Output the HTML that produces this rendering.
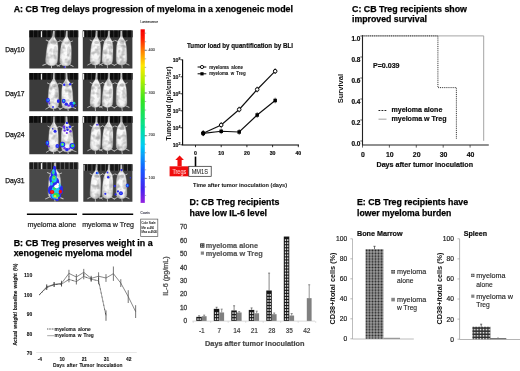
<!DOCTYPE html>
<html lang="en"><head><meta charset="utf-8"><title>CB Treg myeloma xenogeneic model figure</title>
<style>html,body{margin:0;padding:0;background:#fff;}body{width:520px;height:371px;overflow:hidden;}svg{display:block;font-family:'Liberation Sans', Arial, sans-serif;}</style>
</head><body>
<svg width="520" height="371" viewBox="0 0 520 371">
<defs>
<filter id="soft" x="-5%" y="-5%" width="110%" height="110%"><feGaussianBlur stdDeviation="0.35"/></filter>
<filter id="ph" x="-5%" y="-5%" width="110%" height="110%"><feGaussianBlur stdDeviation="0.55"/></filter>
<filter id="tex" x="-10%" y="-10%" width="120%" height="120%" color-interpolation-filters="sRGB"><feTurbulence type="fractalNoise" baseFrequency="0.2" numOctaves="2" seed="11" result="n"/><feColorMatrix in="n" type="matrix" values="0 0 0 0 0  0 0 0 0 0  0 0 0 0 0  1.5 0 0 0 -0.66" result="na"/><feFlood flood-color="#7c7c7c" result="fl"/><feComposite in="fl" in2="na" operator="in" result="dk"/><feComposite in="dk" in2="SourceGraphic" operator="in" result="dkin"/><feMerge result="m"><feMergeNode in="SourceGraphic"/><feMergeNode in="dkin"/></feMerge><feGaussianBlur in="m" stdDeviation="0.6"/></filter>
<filter id="spot" x="-50%" y="-50%" width="200%" height="200%"><feGaussianBlur stdDeviation="0.5"/></filter>
<linearGradient id="cb" x1="0" y1="0" x2="0" y2="1"><stop offset="0" stop-color="#f40000"/><stop offset="0.05" stop-color="#ff1800"/><stop offset="0.12" stop-color="#ff7a00"/><stop offset="0.21" stop-color="#ffe800"/><stop offset="0.29" stop-color="#b4f000"/><stop offset="0.41" stop-color="#34e420"/><stop offset="0.57" stop-color="#00e09a"/><stop offset="0.67" stop-color="#00ccf4"/><stop offset="0.8" stop-color="#1460ff"/><stop offset="0.92" stop-color="#4422f0"/><stop offset="1" stop-color="#9422e0"/></linearGradient>
<radialGradient id="mg" cx="0.5" cy="0.55" r="0.6"><stop offset="0" stop-color="#ffffff"/><stop offset="0.6" stop-color="#f2f2f2"/><stop offset="1" stop-color="#bdbdbd"/></radialGradient>
<pattern id="chkBM" x="365" y="249.1" width="3.0" height="2.83" patternUnits="userSpaceOnUse"><rect width="3" height="2.83" fill="#e4e4e4"/><rect x="0.33" y="0.32" width="2.34" height="2.19" fill="#2a2a2a"/></pattern>
<pattern id="chkSP" x="470.4" y="324.85" width="2.9" height="3.1" patternUnits="userSpaceOnUse"><rect width="2.9" height="3.1" fill="#2c2c2c"/><rect x="0.7" y="0.85" width="1.55" height="1.65" fill="#f4f4f4"/></pattern>
<g id="mouse"><path d="M0.7,0 L0.8,5.5 L1.4,7 L2.4,8.5 L3.5,10 L4.2,12 L4.8,14.5 L5.15,18 L5.4,24 L5.5,29 L5.2,31.5 L4.2,33 L2.5,34 L0,34.5 L0,34.5 L-2.5,34 L-4.2,33 L-5.2,31.5 L-5.5,29 L-5.4,24 L-5.15,18 L-4.8,14.5 L-4.2,12 L-3.5,10 L-2.4,8.5 L-1.4,7 L-0.8,5.5 L-0.7,0 Z" fill="url(#mg)" stroke="url(#mg)" stroke-width="0.3" stroke-linejoin="round"/><path d="M-3.6,11 L-6.8,9.6 M3.6,11 L6.2,9.8 M-4,32.8 L-8,35 M4,32.8 L8,34.6 M0.2,34 L1,40.5" stroke="#c4c4c4" stroke-width="0.9" fill="none"/><ellipse cx="0.6" cy="12" rx="2.6" ry="1.5" fill="#8a8a8a" opacity="0.42"/><ellipse cx="2.6" cy="20" rx="1.6" ry="5" fill="#9a9a9a" opacity="0.3"/><ellipse cx="0" cy="4" rx="0.5" ry="3.5" fill="#888" opacity="0.35"/></g>
</defs>
<rect width="520" height="371" fill="#fff"/>
<g filter="url(#soft)">
<text x="13.7" y="12.2" font-size="8.5" font-weight="bold" fill="#000" text-anchor="start" textLength="279.3" lengthAdjust="spacingAndGlyphs" stroke="#000" stroke-width="0.25" >A: CB Treg delays progression of myeloma in a xenogeneic model</text>
</g>
<clipPath id="cpa1"><rect x="29.3" y="30.6" width="48.900000000000006" height="37.99999999999999"/></clipPath>
<g filter="url(#ph)"><g clip-path="url(#cpa1)">
<rect x="27.3" y="28.6" width="52.900000000000006" height="41.99999999999999" fill="#3b3b3b"/>
<rect x="27.3" y="28.6" width="52.900000000000006" height="8.8" fill="#363636"/>
<rect x="25.05" y="28.6" width="3.6" height="8.6" fill="#101010"/>
<rect x="29.50" y="28.6" width="3.6" height="8.6" fill="#101010"/>
<rect x="33.95" y="28.6" width="3.6" height="8.6" fill="#101010"/>
<rect x="38.40" y="28.6" width="3.6" height="8.6" fill="#101010"/>
<rect x="42.85" y="28.6" width="3.6" height="8.6" fill="#101010"/>
<rect x="47.30" y="28.6" width="3.6" height="8.6" fill="#101010"/>
<rect x="51.75" y="28.6" width="3.6" height="8.6" fill="#101010"/>
<rect x="56.20" y="28.6" width="3.6" height="8.6" fill="#101010"/>
<rect x="60.65" y="28.6" width="3.6" height="8.6" fill="#101010"/>
<rect x="65.10" y="28.6" width="3.6" height="8.6" fill="#101010"/>
<rect x="69.55" y="28.6" width="3.6" height="8.6" fill="#101010"/>
<rect x="74.00" y="28.6" width="3.6" height="8.6" fill="#101010"/>
<rect x="78.45" y="28.6" width="3.6" height="8.6" fill="#101010"/>
<rect x="82.90" y="28.6" width="3.6" height="8.6" fill="#101010"/>
<rect x="40.85" y="31.200000000000003" width="1.1" height="6" fill="#f4f4f4"/>
<g filter="url(#tex)">
<use href="#mouse" transform="translate(53.9,30.6) rotate(4.5) scale(1.08,1.02)"/>
<use href="#mouse" transform="translate(66.8,30.6) rotate(2.5) scale(1.03,1.03)"/>
</g>
</g></g>
<g filter="url(#spot)" clip-path="url(#cpa1)">
<ellipse cx="64.6" cy="67" rx="1.00" ry="0.80" fill="#2a2af0"/>
<ellipse cx="64.8" cy="67.2" rx="0.40" ry="0.40" fill="#6a30e8"/>
</g>
<clipPath id="cpb1"><rect x="82.8" y="30.6" width="49.60000000000001" height="37.99999999999999"/></clipPath>
<g filter="url(#ph)"><g clip-path="url(#cpb1)">
<rect x="80.8" y="28.6" width="53.60000000000001" height="41.99999999999999" fill="#3b3b3b"/>
<rect x="80.8" y="28.6" width="53.60000000000001" height="8.8" fill="#363636"/>
<rect x="78.55" y="28.6" width="3.6" height="8.6" fill="#101010"/>
<rect x="83.00" y="28.6" width="3.6" height="8.6" fill="#101010"/>
<rect x="87.45" y="28.6" width="3.6" height="8.6" fill="#101010"/>
<rect x="91.90" y="28.6" width="3.6" height="8.6" fill="#101010"/>
<rect x="96.35" y="28.6" width="3.6" height="8.6" fill="#101010"/>
<rect x="100.80" y="28.6" width="3.6" height="8.6" fill="#101010"/>
<rect x="105.25" y="28.6" width="3.6" height="8.6" fill="#101010"/>
<rect x="109.70" y="28.6" width="3.6" height="8.6" fill="#101010"/>
<rect x="114.15" y="28.6" width="3.6" height="8.6" fill="#101010"/>
<rect x="118.60" y="28.6" width="3.6" height="8.6" fill="#101010"/>
<rect x="123.05" y="28.6" width="3.6" height="8.6" fill="#101010"/>
<rect x="127.50" y="28.6" width="3.6" height="8.6" fill="#101010"/>
<rect x="131.95" y="28.6" width="3.6" height="8.6" fill="#101010"/>
<rect x="136.40" y="28.6" width="3.6" height="8.6" fill="#101010"/>
<rect x="83.05" y="31.200000000000003" width="1.1" height="6" fill="#f4f4f4"/>
<g filter="url(#tex)">
<use href="#mouse" transform="translate(96.7,30.6) rotate(2.8) scale(0.95,1.0)"/>
<use href="#mouse" transform="translate(109,30.6) rotate(3.2) scale(0.97,1.0)"/>
<use href="#mouse" transform="translate(121.3,30.6) rotate(-0.5) scale(0.97,1.0)"/>
</g>
</g></g>
<g filter="url(#spot)" clip-path="url(#cpb1)">
</g>
<clipPath id="cpa2"><rect x="29.3" y="73" width="48.900000000000006" height="38.3"/></clipPath>
<g filter="url(#ph)"><g clip-path="url(#cpa2)">
<rect x="27.3" y="71" width="52.900000000000006" height="42.3" fill="#3b3b3b"/>
<rect x="27.3" y="71" width="52.900000000000006" height="8.8" fill="#343434"/>
<rect x="25.05" y="71" width="3.6" height="8.6" fill="#101010"/>
<rect x="29.50" y="71" width="3.6" height="8.6" fill="#101010"/>
<rect x="33.95" y="71" width="3.6" height="8.6" fill="#101010"/>
<rect x="38.40" y="71" width="3.6" height="8.6" fill="#101010"/>
<rect x="42.85" y="71" width="3.6" height="8.6" fill="#101010"/>
<rect x="47.30" y="71" width="3.6" height="8.6" fill="#101010"/>
<rect x="51.75" y="71" width="3.6" height="8.6" fill="#101010"/>
<rect x="56.20" y="71" width="3.6" height="8.6" fill="#101010"/>
<rect x="60.65" y="71" width="3.6" height="8.6" fill="#101010"/>
<rect x="65.10" y="71" width="3.6" height="8.6" fill="#101010"/>
<rect x="69.55" y="71" width="3.6" height="8.6" fill="#101010"/>
<rect x="74.00" y="71" width="3.6" height="8.6" fill="#101010"/>
<rect x="78.45" y="71" width="3.6" height="8.6" fill="#101010"/>
<rect x="82.90" y="71" width="3.6" height="8.6" fill="#101010"/>
<rect x="40.85" y="73.6" width="1.1" height="6" fill="#f4f4f4"/>
<g filter="url(#tex)">
<use href="#mouse" transform="translate(53.9,73) rotate(1) scale(0.97,1.04)"/>
<use href="#mouse" transform="translate(66.4,73) rotate(-2) scale(1.04,1.04)"/>
</g>
</g></g>
<g filter="url(#spot)" clip-path="url(#cpa2)">
<ellipse cx="47.9" cy="100.2" rx="1.93" ry="2.52" fill="#2a2af0"/>
<ellipse cx="48.1" cy="100.1" rx="0.74" ry="1.04" fill="#20c8f0"/>
<ellipse cx="58.3" cy="101.1" rx="1.49" ry="1.93" fill="#2a2af0"/>
<ellipse cx="53.0" cy="107.0" rx="0.89" ry="0.89" fill="#2a2af0"/>
<ellipse cx="49.3" cy="103.5" rx="0.89" ry="0.89" fill="#6a30e8"/>
<ellipse cx="64.2" cy="84.8" rx="1.19" ry="1.19" fill="#2a2af0"/>
<ellipse cx="70.1" cy="84.2" rx="1.19" ry="1.19" fill="#2a2af0"/>
<ellipse cx="63.7" cy="101.1" rx="1.93" ry="2.38" fill="#2a2af0"/>
<ellipse cx="63.7" cy="100.8" rx="0.89" ry="1.04" fill="#20c8f0"/>
<ellipse cx="66.3" cy="104.2" rx="1.77" ry="1.62" fill="#2a2af0"/>
<ellipse cx="71.7" cy="103.8" rx="2.52" ry="2.07" fill="#2a2af0"/>
<ellipse cx="68.7" cy="105.6" rx="1.34" ry="1.19" fill="#6a30e8"/>
<ellipse cx="74.0" cy="103.2" rx="1.34" ry="1.34" fill="#20c8f0"/>
<ellipse cx="74.6" cy="103.0" rx="0.74" ry="0.74" fill="#30e050"/>
<ellipse cx="72.5" cy="106.2" rx="1.19" ry="1.19" fill="#2a2af0"/>
<ellipse cx="75.8" cy="105.6" rx="0.74" ry="0.89" fill="#2a2af0"/>
</g>
<clipPath id="cpb2"><rect x="82.8" y="73" width="49.60000000000001" height="38.3"/></clipPath>
<g filter="url(#ph)"><g clip-path="url(#cpb2)">
<rect x="80.8" y="71" width="53.60000000000001" height="42.3" fill="#3b3b3b"/>
<rect x="80.8" y="71" width="53.60000000000001" height="8.8" fill="#363636"/>
<rect x="78.55" y="71" width="3.6" height="8.6" fill="#101010"/>
<rect x="83.00" y="71" width="3.6" height="8.6" fill="#101010"/>
<rect x="87.45" y="71" width="3.6" height="8.6" fill="#101010"/>
<rect x="91.90" y="71" width="3.6" height="8.6" fill="#101010"/>
<rect x="96.35" y="71" width="3.6" height="8.6" fill="#101010"/>
<rect x="100.80" y="71" width="3.6" height="8.6" fill="#101010"/>
<rect x="105.25" y="71" width="3.6" height="8.6" fill="#101010"/>
<rect x="109.70" y="71" width="3.6" height="8.6" fill="#101010"/>
<rect x="114.15" y="71" width="3.6" height="8.6" fill="#101010"/>
<rect x="118.60" y="71" width="3.6" height="8.6" fill="#101010"/>
<rect x="123.05" y="71" width="3.6" height="8.6" fill="#101010"/>
<rect x="127.50" y="71" width="3.6" height="8.6" fill="#101010"/>
<rect x="131.95" y="71" width="3.6" height="8.6" fill="#101010"/>
<rect x="136.40" y="71" width="3.6" height="8.6" fill="#101010"/>
<rect x="83.05" y="73.6" width="1.1" height="6" fill="#f4f4f4"/>
<g filter="url(#tex)">
<use href="#mouse" transform="translate(96.7,73) rotate(2.8) scale(0.95,1.0)"/>
<use href="#mouse" transform="translate(109,73) rotate(3.2) scale(0.97,1.0)"/>
<use href="#mouse" transform="translate(121.3,73) rotate(-0.5) scale(0.97,1.0)"/>
</g>
</g></g>
<g filter="url(#spot)" clip-path="url(#cpb2)">
</g>
<clipPath id="cpa3"><rect x="29.3" y="116.2" width="48.900000000000006" height="38.10000000000001"/></clipPath>
<g filter="url(#ph)"><g clip-path="url(#cpa3)">
<rect x="27.3" y="114.2" width="52.900000000000006" height="42.10000000000001" fill="#3b3b3b"/>
<rect x="27.3" y="114.2" width="52.900000000000006" height="8.8" fill="#343434"/>
<rect x="25.05" y="114.2" width="3.6" height="8.6" fill="#101010"/>
<rect x="29.50" y="114.2" width="3.6" height="8.6" fill="#101010"/>
<rect x="33.95" y="114.2" width="3.6" height="8.6" fill="#101010"/>
<rect x="38.40" y="114.2" width="3.6" height="8.6" fill="#101010"/>
<rect x="42.85" y="114.2" width="3.6" height="8.6" fill="#101010"/>
<rect x="47.30" y="114.2" width="3.6" height="8.6" fill="#101010"/>
<rect x="51.75" y="114.2" width="3.6" height="8.6" fill="#101010"/>
<rect x="56.20" y="114.2" width="3.6" height="8.6" fill="#101010"/>
<rect x="60.65" y="114.2" width="3.6" height="8.6" fill="#101010"/>
<rect x="65.10" y="114.2" width="3.6" height="8.6" fill="#101010"/>
<rect x="69.55" y="114.2" width="3.6" height="8.6" fill="#101010"/>
<rect x="74.00" y="114.2" width="3.6" height="8.6" fill="#101010"/>
<rect x="78.45" y="114.2" width="3.6" height="8.6" fill="#101010"/>
<rect x="82.90" y="114.2" width="3.6" height="8.6" fill="#101010"/>
<rect x="40.85" y="116.8" width="1.1" height="6" fill="#f4f4f4"/>
<g filter="url(#tex)">
<use href="#mouse" transform="translate(53.9,116.2) rotate(1) scale(0.9,1.04)"/>
<use href="#mouse" transform="translate(66.4,116.2) rotate(-2) scale(1.1,1.04)"/>
</g>
</g></g>
<g filter="url(#spot)" clip-path="url(#cpa3)">
<ellipse cx="55.1" cy="131.2" rx="1.52" ry="1.52" fill="#2a2af0"/>
<ellipse cx="52.7" cy="128.8" rx="0.76" ry="0.76" fill="#2a2af0"/>
<ellipse cx="47.4" cy="143.1" rx="1.82" ry="2.59" fill="#2a2af0"/>
<ellipse cx="47.4" cy="142.8" rx="0.76" ry="1.06" fill="#20c8f0"/>
<ellipse cx="57.4" cy="146.0" rx="1.97" ry="1.97" fill="#2a2af0"/>
<ellipse cx="57.4" cy="146.0" rx="0.76" ry="0.76" fill="#4a7af8"/>
<ellipse cx="48.8" cy="146.3" rx="0.91" ry="0.91" fill="#6a30e8"/>
<ellipse cx="66.9" cy="122.9" rx="1.22" ry="1.22" fill="#2a2af0"/>
<ellipse cx="64.0" cy="126.8" rx="1.37" ry="1.37" fill="#6a30e8"/>
<ellipse cx="69.9" cy="126.8" rx="1.37" ry="1.37" fill="#2a2af0"/>
<ellipse cx="64.6" cy="130.6" rx="1.22" ry="1.22" fill="#6a30e8"/>
<ellipse cx="67.5" cy="129.7" rx="1.22" ry="1.22" fill="#2a2af0"/>
<ellipse cx="70.5" cy="131.2" rx="1.22" ry="1.22" fill="#6a30e8"/>
<ellipse cx="66.9" cy="133.0" rx="1.06" ry="1.06" fill="#6a30e8"/>
<ellipse cx="66.9" cy="127.3" rx="0.91" ry="0.91" fill="#2a2af0"/>
<ellipse cx="64.2" cy="128.8" rx="0.76" ry="0.76" fill="#2a2af0"/>
<ellipse cx="62.5" cy="144.6" rx="2.74" ry="2.88" fill="#2a2af0"/>
<ellipse cx="62.5" cy="144.5" rx="1.66" ry="1.82" fill="#20c8f0"/>
<ellipse cx="62.4" cy="144.4" rx="1.06" ry="1.22" fill="#30e050"/>
<ellipse cx="62.3" cy="144.2" rx="0.46" ry="0.60" fill="#f0e020"/>
<ellipse cx="72.3" cy="146.0" rx="2.88" ry="2.88" fill="#2a2af0"/>
<ellipse cx="72.5" cy="145.8" rx="1.82" ry="1.82" fill="#20c8f0"/>
<ellipse cx="72.7" cy="145.7" rx="1.22" ry="1.22" fill="#30e050"/>
<ellipse cx="73.0" cy="145.6" rx="0.60" ry="0.60" fill="#f08020"/>
<ellipse cx="66.9" cy="149.6" rx="1.82" ry="1.66" fill="#2a2af0"/>
<ellipse cx="64.6" cy="148.2" rx="1.22" ry="1.22" fill="#6a30e8"/>
<ellipse cx="69.3" cy="148.6" rx="1.06" ry="1.06" fill="#6a30e8"/>
</g>
<clipPath id="cpb3"><rect x="82.8" y="116.2" width="49.60000000000001" height="38.10000000000001"/></clipPath>
<g filter="url(#ph)"><g clip-path="url(#cpb3)">
<rect x="80.8" y="114.2" width="53.60000000000001" height="42.10000000000001" fill="#3b3b3b"/>
<rect x="80.8" y="114.2" width="53.60000000000001" height="8.8" fill="#363636"/>
<rect x="78.55" y="114.2" width="3.6" height="8.6" fill="#101010"/>
<rect x="83.00" y="114.2" width="3.6" height="8.6" fill="#101010"/>
<rect x="87.45" y="114.2" width="3.6" height="8.6" fill="#101010"/>
<rect x="91.90" y="114.2" width="3.6" height="8.6" fill="#101010"/>
<rect x="96.35" y="114.2" width="3.6" height="8.6" fill="#101010"/>
<rect x="100.80" y="114.2" width="3.6" height="8.6" fill="#101010"/>
<rect x="105.25" y="114.2" width="3.6" height="8.6" fill="#101010"/>
<rect x="109.70" y="114.2" width="3.6" height="8.6" fill="#101010"/>
<rect x="114.15" y="114.2" width="3.6" height="8.6" fill="#101010"/>
<rect x="118.60" y="114.2" width="3.6" height="8.6" fill="#101010"/>
<rect x="123.05" y="114.2" width="3.6" height="8.6" fill="#101010"/>
<rect x="127.50" y="114.2" width="3.6" height="8.6" fill="#101010"/>
<rect x="131.95" y="114.2" width="3.6" height="8.6" fill="#101010"/>
<rect x="136.40" y="114.2" width="3.6" height="8.6" fill="#101010"/>
<rect x="83.05" y="116.8" width="1.1" height="6" fill="#f4f4f4"/>
<g filter="url(#tex)">
<use href="#mouse" transform="translate(96.7,116.2) rotate(2.8) scale(0.95,1.0)"/>
<use href="#mouse" transform="translate(109,116.2) rotate(3.2) scale(0.97,1.0)"/>
<use href="#mouse" transform="translate(121.3,116.2) rotate(-0.5) scale(0.97,1.0)"/>
</g>
</g></g>
<g filter="url(#spot)" clip-path="url(#cpb3)">
<ellipse cx="97.3" cy="124.7" rx="1.50" ry="0.90" fill="#5a4ae8"/>
</g>
<clipPath id="cpa4"><rect x="29.3" y="162.5" width="48.900000000000006" height="39.30000000000001"/></clipPath>
<g filter="url(#ph)"><g clip-path="url(#cpa4)">
<rect x="27.3" y="160.5" width="52.900000000000006" height="43.30000000000001" fill="#4a4a4a"/>
<rect x="27.3" y="160.5" width="52.900000000000006" height="8.8" fill="#707070"/>
<rect x="25.05" y="160.5" width="3.6" height="8.6" fill="#1c1c1c"/>
<rect x="29.50" y="160.5" width="3.6" height="8.6" fill="#1c1c1c"/>
<rect x="33.95" y="160.5" width="3.6" height="8.6" fill="#1c1c1c"/>
<rect x="38.40" y="160.5" width="3.6" height="8.6" fill="#1c1c1c"/>
<rect x="42.85" y="160.5" width="3.6" height="8.6" fill="#1c1c1c"/>
<rect x="47.30" y="160.5" width="3.6" height="8.6" fill="#1c1c1c"/>
<rect x="51.75" y="160.5" width="3.6" height="8.6" fill="#1c1c1c"/>
<rect x="56.20" y="160.5" width="3.6" height="8.6" fill="#1c1c1c"/>
<rect x="60.65" y="160.5" width="3.6" height="8.6" fill="#1c1c1c"/>
<rect x="65.10" y="160.5" width="3.6" height="8.6" fill="#1c1c1c"/>
<rect x="69.55" y="160.5" width="3.6" height="8.6" fill="#1c1c1c"/>
<rect x="74.00" y="160.5" width="3.6" height="8.6" fill="#1c1c1c"/>
<rect x="78.45" y="160.5" width="3.6" height="8.6" fill="#1c1c1c"/>
<rect x="82.90" y="160.5" width="3.6" height="8.6" fill="#1c1c1c"/>
<rect x="40.85" y="163.1" width="1.1" height="6" fill="#f4f4f4"/>
<g filter="url(#tex)">
<use href="#mouse" transform="translate(55,162.5) rotate(1) scale(1.14,1.05)"/>
</g>
</g></g>
<g filter="url(#spot)" clip-path="url(#cpa4)">
<ellipse cx="54.5" cy="168.9" rx="1.54" ry="3.08" fill="#2a2af0"/>
<ellipse cx="53.8" cy="174.8" rx="3.08" ry="4.27" fill="#2a2af0"/>
<ellipse cx="54.5" cy="181.9" rx="4.74" ry="4.98" fill="#2a2af0"/>
<ellipse cx="55.2" cy="189.7" rx="6.88" ry="6.17" fill="#2a2af0"/>
<ellipse cx="55.7" cy="195.6" rx="5.46" ry="4.27" fill="#2a2af0"/>
<ellipse cx="49.7" cy="190.2" rx="1.66" ry="3.80" fill="#2a2af0"/>
<ellipse cx="61.3" cy="189.7" rx="1.66" ry="4.27" fill="#2a2af0"/>
<ellipse cx="57.1" cy="199.7" rx="1.66" ry="1.19" fill="#2a2af0"/>
<ellipse cx="52.7" cy="179.0" rx="3.56" ry="3.56" fill="#2a2af0"/>
<ellipse cx="53.5" cy="171.9" rx="1.30" ry="2.85" fill="#20c8f0"/>
<ellipse cx="54.2" cy="179.0" rx="2.61" ry="3.56" fill="#20c8f0"/>
<ellipse cx="55.7" cy="190.2" rx="4.03" ry="4.27" fill="#20c8f0"/>
<ellipse cx="55.1" cy="195.6" rx="3.80" ry="3.08" fill="#20c8f0"/>
<ellipse cx="51.5" cy="183.7" rx="1.42" ry="1.90" fill="#20c8f0"/>
<ellipse cx="59.6" cy="185.5" rx="1.07" ry="2.14" fill="#20c8f0"/>
<ellipse cx="54.0" cy="177.6" rx="1.54" ry="2.37" fill="#30e050"/>
<ellipse cx="53.0" cy="172.8" rx="0.71" ry="1.42" fill="#30e050"/>
<ellipse cx="55.7" cy="195.0" rx="2.61" ry="2.37" fill="#30e050"/>
<ellipse cx="54.5" cy="188.2" rx="1.42" ry="1.66" fill="#30e050"/>
<ellipse cx="58.6" cy="195.6" rx="1.07" ry="1.30" fill="#30e050"/>
<ellipse cx="52.8" cy="181.9" rx="0.83" ry="1.07" fill="#30e050"/>
<ellipse cx="55.1" cy="196.2" rx="1.30" ry="1.19" fill="#f0e020"/>
<ellipse cx="57.1" cy="198.2" rx="0.83" ry="0.83" fill="#f0e020"/>
<ellipse cx="54.0" cy="177.8" rx="0.59" ry="0.83" fill="#f0e020"/>
<ellipse cx="52.1" cy="192.0" rx="2.25" ry="2.02" fill="#ee1010"/>
<ellipse cx="60.4" cy="191.6" rx="1.66" ry="1.90" fill="#ee1010"/>
<ellipse cx="52.1" cy="192.0" rx="1.07" ry="0.95" fill="#ff3020"/>
<ellipse cx="56.6" cy="186.3" rx="2.37" ry="1.90" fill="#ffffff"/>
<ellipse cx="57.8" cy="184.3" rx="1.19" ry="1.30" fill="#ffffff"/>
</g>
<clipPath id="cpb4"><rect x="83.3" y="164.2" width="49.10000000000001" height="37.60000000000002"/></clipPath>
<g filter="url(#ph)"><g clip-path="url(#cpb4)">
<rect x="81.3" y="162.2" width="53.10000000000001" height="41.60000000000002" fill="#404040"/>
<rect x="81.3" y="162.2" width="53.10000000000001" height="8.8" fill="#5a5a5a"/>
<rect x="79.05" y="162.2" width="3.6" height="8.6" fill="#181818"/>
<rect x="83.50" y="162.2" width="3.6" height="8.6" fill="#181818"/>
<rect x="87.95" y="162.2" width="3.6" height="8.6" fill="#181818"/>
<rect x="92.40" y="162.2" width="3.6" height="8.6" fill="#181818"/>
<rect x="96.85" y="162.2" width="3.6" height="8.6" fill="#181818"/>
<rect x="101.30" y="162.2" width="3.6" height="8.6" fill="#181818"/>
<rect x="105.75" y="162.2" width="3.6" height="8.6" fill="#181818"/>
<rect x="110.20" y="162.2" width="3.6" height="8.6" fill="#181818"/>
<rect x="114.65" y="162.2" width="3.6" height="8.6" fill="#181818"/>
<rect x="119.10" y="162.2" width="3.6" height="8.6" fill="#181818"/>
<rect x="123.55" y="162.2" width="3.6" height="8.6" fill="#181818"/>
<rect x="128.00" y="162.2" width="3.6" height="8.6" fill="#181818"/>
<rect x="132.45" y="162.2" width="3.6" height="8.6" fill="#181818"/>
<rect x="136.90" y="162.2" width="3.6" height="8.6" fill="#181818"/>
<rect x="83.45" y="164.79999999999998" width="1.1" height="6" fill="#f4f4f4"/>
<g filter="url(#tex)">
<use href="#mouse" transform="translate(96.7,164.2) rotate(2.8) scale(0.95,1.0)"/>
<use href="#mouse" transform="translate(109,164.2) rotate(3.2) scale(0.97,1.0)"/>
<use href="#mouse" transform="translate(121.3,164.2) rotate(-0.5) scale(0.97,1.0)"/>
</g>
</g></g>
<g filter="url(#spot)" clip-path="url(#cpb4)">
<ellipse cx="97.2" cy="173.0" rx="1.49" ry="1.37" fill="#2a2af0"/>
<ellipse cx="97.4" cy="173.0" rx="0.68" ry="0.68" fill="#20c8f0"/>
<ellipse cx="107.5" cy="172.5" rx="0.95" ry="0.95" fill="#2a2af0"/>
<ellipse cx="108.2" cy="177.2" rx="1.23" ry="1.23" fill="#2a2af0"/>
<ellipse cx="114.8" cy="186.1" rx="1.09" ry="1.09" fill="#2a2af0"/>
<ellipse cx="105.3" cy="193.8" rx="1.09" ry="1.09" fill="#2a2af0"/>
<ellipse cx="121.5" cy="170.1" rx="1.09" ry="1.09" fill="#2a2af0"/>
<ellipse cx="127.4" cy="185.5" rx="1.63" ry="2.05" fill="#2a2af0"/>
<ellipse cx="127.4" cy="185.5" rx="0.82" ry="1.09" fill="#20c8f0"/>
<ellipse cx="120.9" cy="193.2" rx="2.05" ry="2.05" fill="#2a2af0"/>
<ellipse cx="120.9" cy="193.2" rx="0.82" ry="0.82" fill="#4a7af8"/>
<ellipse cx="118.0" cy="191.4" rx="1.09" ry="1.09" fill="#2a2af0"/>
<ellipse cx="115.6" cy="194.4" rx="1.09" ry="1.09" fill="#2a2af0"/>
<ellipse cx="130.4" cy="177.8" rx="0.68" ry="0.68" fill="#2a2af0"/>
</g>
<g filter="url(#soft)">
<text x="5.2" y="52.4" font-size="7.6" font-weight="normal" fill="#111" text-anchor="start" textLength="19.4" lengthAdjust="spacingAndGlyphs" stroke="#111" stroke-width="0.25" >Day10</text>
<text x="5.2" y="95.5" font-size="7.6" font-weight="normal" fill="#111" text-anchor="start" textLength="19.4" lengthAdjust="spacingAndGlyphs" stroke="#111" stroke-width="0.25" >Day17</text>
<text x="5.2" y="137.3" font-size="7.6" font-weight="normal" fill="#111" text-anchor="start" textLength="19.4" lengthAdjust="spacingAndGlyphs" stroke="#111" stroke-width="0.25" >Day24</text>
<text x="5.2" y="183.4" font-size="7.6" font-weight="normal" fill="#111" text-anchor="start" textLength="19.4" lengthAdjust="spacingAndGlyphs" stroke="#111" stroke-width="0.25" >Day31</text>
<rect x="140.6" y="29.3" width="4.2" height="173.6" fill="url(#cb)"/>
<text x="140.5" y="23.4" font-size="3.3" font-weight="normal" fill="#333" text-anchor="start" textLength="17.4" lengthAdjust="spacingAndGlyphs" stroke="#333" stroke-width="0.12" >Luminescence</text>
<line x1="144.6" y1="33.20" x2="146.2" y2="33.20" stroke="#666" stroke-width="0.5"/>
<line x1="144.6" y1="41.74" x2="146.2" y2="41.74" stroke="#666" stroke-width="0.5"/>
<line x1="144.6" y1="50.28" x2="146.2" y2="50.28" stroke="#666" stroke-width="0.5"/>
<line x1="144.6" y1="58.82" x2="146.2" y2="58.82" stroke="#666" stroke-width="0.5"/>
<line x1="144.6" y1="67.36" x2="146.2" y2="67.36" stroke="#666" stroke-width="0.5"/>
<line x1="144.6" y1="75.90" x2="146.2" y2="75.90" stroke="#666" stroke-width="0.5"/>
<line x1="144.6" y1="84.44" x2="146.2" y2="84.44" stroke="#666" stroke-width="0.5"/>
<line x1="144.6" y1="92.98" x2="146.2" y2="92.98" stroke="#666" stroke-width="0.5"/>
<line x1="144.6" y1="101.52" x2="146.2" y2="101.52" stroke="#666" stroke-width="0.5"/>
<line x1="144.6" y1="110.06" x2="146.2" y2="110.06" stroke="#666" stroke-width="0.5"/>
<line x1="144.6" y1="118.60" x2="146.2" y2="118.60" stroke="#666" stroke-width="0.5"/>
<line x1="144.6" y1="127.14" x2="146.2" y2="127.14" stroke="#666" stroke-width="0.5"/>
<line x1="144.6" y1="135.68" x2="146.2" y2="135.68" stroke="#666" stroke-width="0.5"/>
<line x1="144.6" y1="144.22" x2="146.2" y2="144.22" stroke="#666" stroke-width="0.5"/>
<line x1="144.6" y1="152.76" x2="146.2" y2="152.76" stroke="#666" stroke-width="0.5"/>
<line x1="144.6" y1="161.30" x2="146.2" y2="161.30" stroke="#666" stroke-width="0.5"/>
<line x1="144.6" y1="169.84" x2="146.2" y2="169.84" stroke="#666" stroke-width="0.5"/>
<line x1="144.6" y1="178.38" x2="146.2" y2="178.38" stroke="#666" stroke-width="0.5"/>
<line x1="144.6" y1="186.92" x2="146.2" y2="186.92" stroke="#666" stroke-width="0.5"/>
<line x1="144.6" y1="195.46" x2="146.2" y2="195.46" stroke="#666" stroke-width="0.5"/>
<line x1="144.6" y1="50.3" x2="147.2" y2="50.3" stroke="#555" stroke-width="0.6"/>
<text x="148.6" y="50.9" font-size="3.6" font-weight="normal" fill="#444" text-anchor="start" textLength="6.3" lengthAdjust="spacingAndGlyphs" stroke="#444" stroke-width="0.12" >400</text>
<line x1="144.6" y1="93" x2="147.2" y2="93" stroke="#555" stroke-width="0.6"/>
<text x="148.6" y="93.6" font-size="3.6" font-weight="normal" fill="#444" text-anchor="start" textLength="6.3" lengthAdjust="spacingAndGlyphs" stroke="#444" stroke-width="0.12" >300</text>
<line x1="144.6" y1="135.7" x2="147.2" y2="135.7" stroke="#555" stroke-width="0.6"/>
<text x="148.6" y="136.29999999999998" font-size="3.6" font-weight="normal" fill="#444" text-anchor="start" textLength="6.3" lengthAdjust="spacingAndGlyphs" stroke="#444" stroke-width="0.12" >200</text>
<line x1="144.6" y1="178.4" x2="147.2" y2="178.4" stroke="#555" stroke-width="0.6"/>
<text x="148.6" y="179.0" font-size="3.6" font-weight="normal" fill="#444" text-anchor="start" textLength="6.3" lengthAdjust="spacingAndGlyphs" stroke="#444" stroke-width="0.12" >100</text>
<text x="140.6" y="214" font-size="3.5" font-weight="normal" fill="#334" text-anchor="start" textLength="9" lengthAdjust="spacingAndGlyphs" stroke="#334" stroke-width="0.12" >Counts</text>
<rect x="140.7" y="219.1" width="17.1" height="17.3" fill="#fff" stroke="#555" stroke-width="0.7"/>
<text x="141.6" y="224" font-size="3.8" font-weight="normal" fill="#222" text-anchor="start" textLength="13.8" lengthAdjust="spacingAndGlyphs" stroke="#222" stroke-width="0.12" >Color Scale</text>
<text x="141.6" y="228.7" font-size="3.8" font-weight="normal" fill="#222" text-anchor="start" textLength="12.5" lengthAdjust="spacingAndGlyphs" stroke="#222" stroke-width="0.12" >Min = 450</text>
<text x="141.6" y="233.4" font-size="3.8" font-weight="normal" fill="#222" text-anchor="start" textLength="15.4" lengthAdjust="spacingAndGlyphs" stroke="#222" stroke-width="0.12" >Max = 4500</text>
<rect x="26.9" y="213.5" width="50.1" height="1.5" fill="#000"/>
<rect x="82.4" y="213.5" width="50.8" height="1.5" fill="#000"/>
<text x="27.4" y="226.6" font-size="7.9" font-weight="normal" fill="#1a1a1a" text-anchor="start" textLength="48.8" lengthAdjust="spacingAndGlyphs" stroke="#1a1a1a" stroke-width="0.22" >myeloma alone</text>
<text x="82.2" y="226.6" font-size="7.9" font-weight="normal" fill="#1a1a1a" text-anchor="start" textLength="51.8" lengthAdjust="spacingAndGlyphs" stroke="#1a1a1a" stroke-width="0.22" >myeloma w Treg</text>
<text x="187" y="48.2" font-size="6.6" font-weight="bold" fill="#111" text-anchor="start" textLength="106" lengthAdjust="spacingAndGlyphs" stroke="#111" stroke-width="0.2" >Tumor load by quantification by BLI</text>
<path d="M182.6,59.4 V145 H299" stroke="#000" stroke-width="1.1" fill="none"/>
<line x1="180.6" y1="144.80" x2="182.6" y2="144.80" stroke="#000" stroke-width="0.8"/>
<text x="180.4" y="147.00" font-size="5.2" font-weight="bold" text-anchor="end" fill="#111" stroke="#111" stroke-width="0.15">10<tspan dy="-2" font-size="3.5">3</tspan></text>
<line x1="180.6" y1="127.80" x2="182.6" y2="127.80" stroke="#000" stroke-width="0.8"/>
<text x="180.4" y="130.00" font-size="5.2" font-weight="bold" text-anchor="end" fill="#111" stroke="#111" stroke-width="0.15">10<tspan dy="-2" font-size="3.5">4</tspan></text>
<line x1="180.6" y1="110.80" x2="182.6" y2="110.80" stroke="#000" stroke-width="0.8"/>
<text x="180.4" y="113.00" font-size="5.2" font-weight="bold" text-anchor="end" fill="#111" stroke="#111" stroke-width="0.15">10<tspan dy="-2" font-size="3.5">5</tspan></text>
<line x1="180.6" y1="93.80" x2="182.6" y2="93.80" stroke="#000" stroke-width="0.8"/>
<text x="180.4" y="96.00" font-size="5.2" font-weight="bold" text-anchor="end" fill="#111" stroke="#111" stroke-width="0.15">10<tspan dy="-2" font-size="3.5">6</tspan></text>
<line x1="180.6" y1="76.80" x2="182.6" y2="76.80" stroke="#000" stroke-width="0.8"/>
<text x="180.4" y="79.00" font-size="5.2" font-weight="bold" text-anchor="end" fill="#111" stroke="#111" stroke-width="0.15">10<tspan dy="-2" font-size="3.5">7</tspan></text>
<line x1="180.6" y1="59.80" x2="182.6" y2="59.80" stroke="#000" stroke-width="0.8"/>
<text x="180.4" y="62.00" font-size="5.2" font-weight="bold" text-anchor="end" fill="#111" stroke="#111" stroke-width="0.15">10<tspan dy="-2" font-size="3.5">8</tspan></text>
<line x1="195.50" y1="145" x2="195.50" y2="147.2" stroke="#000" stroke-width="0.8"/>
<text x="195.50" y="154.8" font-size="5.2" font-weight="bold" fill="#111" text-anchor="middle" stroke="#111" stroke-width="0.2" >0</text>
<line x1="221.20" y1="145" x2="221.20" y2="147.2" stroke="#000" stroke-width="0.8"/>
<text x="221.20" y="154.8" font-size="5.2" font-weight="bold" fill="#111" text-anchor="middle" stroke="#111" stroke-width="0.2" >10</text>
<line x1="246.90" y1="145" x2="246.90" y2="147.2" stroke="#000" stroke-width="0.8"/>
<text x="246.90" y="154.8" font-size="5.2" font-weight="bold" fill="#111" text-anchor="middle" stroke="#111" stroke-width="0.2" >20</text>
<line x1="272.60" y1="145" x2="272.60" y2="147.2" stroke="#000" stroke-width="0.8"/>
<text x="272.60" y="154.8" font-size="5.2" font-weight="bold" fill="#111" text-anchor="middle" stroke="#111" stroke-width="0.2" >30</text>
<line x1="298.30" y1="145" x2="298.30" y2="147.2" stroke="#000" stroke-width="0.8"/>
<text x="298.30" y="154.8" font-size="5.2" font-weight="bold" fill="#111" text-anchor="middle" stroke="#111" stroke-width="0.2" >40</text>
<text transform="translate(170.9,103.4) rotate(-90)" font-size="6.6" font-weight="bold" text-anchor="middle" fill="#111" textLength="74" lengthAdjust="spacingAndGlyphs">Tumor load (p/s/cm<tspan dy="-2" font-size="4.4">2</tspan><tspan dy="2">/sr)</tspan></text>
<text x="193.1" y="186.9" font-size="6.1" font-weight="bold" fill="#111" text-anchor="start" textLength="94" lengthAdjust="spacingAndGlyphs" stroke="#111" stroke-width="0.05" >Time after tumor inoculation (days)</text>
<polyline points="203.21,133.2 221.20,125 239.19,109.5 257.18,89.5 275.17,71.2" fill="none" stroke="#111" stroke-width="1.15"/>
<polyline points="203.21,133.4 221.20,131.3 239.19,132 257.18,115 275.17,100.5" fill="none" stroke="#111" stroke-width="1.15"/>
<line x1="203.21" y1="130.39999999999998" x2="203.21" y2="136.0" stroke="#000" stroke-width="0.8"/>
<circle cx="203.21" cy="133.2" r="1.8" fill="#fff" stroke="#000" stroke-width="1.0"/>
<line x1="221.20" y1="122.2" x2="221.20" y2="127.8" stroke="#000" stroke-width="0.8"/>
<circle cx="221.20" cy="125" r="1.8" fill="#fff" stroke="#000" stroke-width="1.0"/>
<line x1="239.19" y1="106.7" x2="239.19" y2="112.3" stroke="#000" stroke-width="0.8"/>
<circle cx="239.19" cy="109.5" r="1.8" fill="#fff" stroke="#000" stroke-width="1.0"/>
<line x1="257.18" y1="86.7" x2="257.18" y2="92.3" stroke="#000" stroke-width="0.8"/>
<circle cx="257.18" cy="89.5" r="1.8" fill="#fff" stroke="#000" stroke-width="1.0"/>
<line x1="275.17" y1="68.4" x2="275.17" y2="74.0" stroke="#000" stroke-width="0.8"/>
<circle cx="275.17" cy="71.2" r="1.8" fill="#fff" stroke="#000" stroke-width="1.0"/>
<line x1="203.21" y1="130.6" x2="203.21" y2="136.20000000000002" stroke="#000" stroke-width="0.6"/>
<rect x="201.46" y="131.65" width="3.5" height="3.5" fill="#000"/>
<line x1="221.20" y1="128.5" x2="221.20" y2="134.10000000000002" stroke="#000" stroke-width="0.6"/>
<rect x="219.45" y="129.55" width="3.5" height="3.5" fill="#000"/>
<line x1="239.19" y1="129.2" x2="239.19" y2="134.8" stroke="#000" stroke-width="0.6"/>
<rect x="237.44" y="130.25" width="3.5" height="3.5" fill="#000"/>
<line x1="257.18" y1="112.2" x2="257.18" y2="117.8" stroke="#000" stroke-width="0.6"/>
<rect x="255.43" y="113.25" width="3.5" height="3.5" fill="#000"/>
<line x1="275.17" y1="97.7" x2="275.17" y2="103.3" stroke="#000" stroke-width="0.6"/>
<rect x="273.42" y="98.75" width="3.5" height="3.5" fill="#000"/>
<line x1="197.6" y1="67" x2="206.3" y2="67" stroke="#000" stroke-width="1"/><circle cx="202" cy="67" r="1.6" fill="#fff" stroke="#000" stroke-width="0.9"/>
<line x1="197.6" y1="73.8" x2="206.3" y2="73.8" stroke="#000" stroke-width="1"/><rect x="200.4" y="72.2" width="3.2" height="3.2" fill="#000"/>
<text x="209.2" y="68.5" font-size="4.5" font-weight="bold" fill="#111" text-anchor="start" textLength="33.8" lengthAdjust="spacingAndGlyphs" stroke="#111" stroke-width="0.06" word-spacing="1.3">myeloma alone</text>
<text x="209.2" y="75.3" font-size="4.5" font-weight="bold" fill="#111" text-anchor="start" textLength="36.5" lengthAdjust="spacingAndGlyphs" stroke="#111" stroke-width="0.06" word-spacing="1.1">myeloma w Treg</text>
<rect x="169.6" y="166.3" width="19.2" height="10" fill="#f00a0a"/>
<rect x="188.8" y="166.3" width="22.4" height="10" fill="#fff" stroke="#222" stroke-width="0.7"/>
<text x="179.3" y="173.7" font-size="6.4" font-weight="normal" fill="#ffc4c4" text-anchor="middle" textLength="13.8" lengthAdjust="spacingAndGlyphs" stroke="#ffc4c4" stroke-width="0.12" >Tregs</text>
<text x="199.8" y="173.8" font-size="6.6" font-weight="normal" fill="#111" text-anchor="middle" textLength="16.3" lengthAdjust="spacingAndGlyphs" stroke="#111" stroke-width="0.03" >MM1S</text>
<path d="M179.6,155.4 L183.9,160 L181.7,160 L181.7,166.3 L177.5,166.3 L177.5,160 L175.3,160 Z" fill="#f00a0a"/>
<line x1="195.5" y1="156.6" x2="195.5" y2="166.3" stroke="#000" stroke-width="1.6"/>
<text x="352" y="12.2" font-size="8.5" font-weight="bold" fill="#000" text-anchor="start" textLength="115" lengthAdjust="spacingAndGlyphs" stroke="#000" stroke-width="0.25" >C: CB Treg recipients show</text>
<text x="352" y="21.8" font-size="8.5" font-weight="bold" fill="#000" text-anchor="start" textLength="75" lengthAdjust="spacingAndGlyphs" stroke="#000" stroke-width="0.25" >improved survival</text>
<path d="M362.5,35 V145 H488.8" stroke="#222" stroke-width="1.1" fill="none"/>
<line x1="360.3" y1="141.00" x2="362.5" y2="141.00" stroke="#222" stroke-width="0.7"/>
<text x="360.4" y="146.20" font-size="6.4" font-weight="bold" fill="#111" text-anchor="end" textLength="9.0" lengthAdjust="spacingAndGlyphs" stroke="#111" stroke-width="0.2" >0.0</text>
<line x1="360.3" y1="120.00" x2="362.5" y2="120.00" stroke="#222" stroke-width="0.7"/>
<text x="360.4" y="125.20" font-size="6.4" font-weight="bold" fill="#111" text-anchor="end" textLength="9.0" lengthAdjust="spacingAndGlyphs" stroke="#111" stroke-width="0.2" >0.2</text>
<line x1="360.3" y1="99.00" x2="362.5" y2="99.00" stroke="#222" stroke-width="0.7"/>
<text x="360.4" y="104.20" font-size="6.4" font-weight="bold" fill="#111" text-anchor="end" textLength="9.0" lengthAdjust="spacingAndGlyphs" stroke="#111" stroke-width="0.2" >0.4</text>
<line x1="360.3" y1="78.00" x2="362.5" y2="78.00" stroke="#222" stroke-width="0.7"/>
<text x="360.4" y="83.20" font-size="6.4" font-weight="bold" fill="#111" text-anchor="end" textLength="9.0" lengthAdjust="spacingAndGlyphs" stroke="#111" stroke-width="0.2" >0.6</text>
<line x1="360.3" y1="57.00" x2="362.5" y2="57.00" stroke="#222" stroke-width="0.7"/>
<text x="360.4" y="62.20" font-size="6.4" font-weight="bold" fill="#111" text-anchor="end" textLength="9.0" lengthAdjust="spacingAndGlyphs" stroke="#111" stroke-width="0.2" >0.8</text>
<line x1="360.3" y1="36.00" x2="362.5" y2="36.00" stroke="#222" stroke-width="0.7"/>
<text x="360.4" y="41.20" font-size="6.4" font-weight="bold" fill="#111" text-anchor="end" textLength="9.0" lengthAdjust="spacingAndGlyphs" stroke="#111" stroke-width="0.2" >1.0</text>
<line x1="362.50" y1="145" x2="362.50" y2="147.6" stroke="#222" stroke-width="0.7"/>
<text x="362.90" y="156.6" font-size="6.9" font-weight="bold" fill="#111" text-anchor="middle" stroke="#111" stroke-width="0.2" >0</text>
<line x1="389.40" y1="145" x2="389.40" y2="147.6" stroke="#222" stroke-width="0.7"/>
<text x="389.80" y="156.6" font-size="6.9" font-weight="bold" fill="#111" text-anchor="middle" stroke="#111" stroke-width="0.2" >10</text>
<line x1="416.30" y1="145" x2="416.30" y2="147.6" stroke="#222" stroke-width="0.7"/>
<text x="416.70" y="156.6" font-size="6.9" font-weight="bold" fill="#111" text-anchor="middle" stroke="#111" stroke-width="0.2" >20</text>
<line x1="443.20" y1="145" x2="443.20" y2="147.6" stroke="#222" stroke-width="0.7"/>
<text x="443.60" y="156.6" font-size="6.9" font-weight="bold" fill="#111" text-anchor="middle" stroke="#111" stroke-width="0.2" >30</text>
<line x1="470.10" y1="145" x2="470.10" y2="147.6" stroke="#222" stroke-width="0.7"/>
<text x="470.50" y="156.6" font-size="6.9" font-weight="bold" fill="#111" text-anchor="middle" stroke="#111" stroke-width="0.2" >40</text>
<path d="M362.5,35.9 H483.7 V140.8" stroke="#9a9a9a" stroke-width="0.9" fill="none"/>
<path d="M362.5,35.9 H437.9 V87.6 H456.4 V139.5" stroke="#222" stroke-width="0.9" stroke-dasharray="1,0.9" fill="none"/>
<text x="373" y="67.6" font-size="6.9" font-weight="bold" fill="#111" text-anchor="start" textLength="26.5" lengthAdjust="spacingAndGlyphs" stroke="#111" stroke-width="0.2" >P=0.039</text>
<text transform="translate(343.2,88.6) rotate(-90)" font-size="6.3" font-weight="bold" text-anchor="middle" fill="#111" textLength="29.4" lengthAdjust="spacingAndGlyphs">Survival</text>
<line x1="378.5" y1="110.5" x2="386.3" y2="110.5" stroke="#222" stroke-width="1" stroke-dasharray="1.8,1.2"/>
<line x1="378.5" y1="119.2" x2="386.5" y2="119.2" stroke="#b0b0b0" stroke-width="1.2"/>
<text x="391.5" y="112.1" font-size="7.0" font-weight="bold" fill="#111" text-anchor="start" textLength="50.8" lengthAdjust="spacingAndGlyphs" stroke="#111" stroke-width="0.2" >myeloma alone</text>
<text x="391.5" y="121.2" font-size="7.0" font-weight="bold" fill="#111" text-anchor="start" textLength="55" lengthAdjust="spacingAndGlyphs" stroke="#111" stroke-width="0.2" >myeloma w Treg</text>
<text x="376.5" y="166.9" font-size="6.9" font-weight="bold" fill="#111" text-anchor="start" textLength="96.5" lengthAdjust="spacingAndGlyphs" stroke="#111" stroke-width="0.2" >Days after tumor inoculation</text>
<text x="13.7" y="246.0" font-size="8.5" font-weight="bold" fill="#000" text-anchor="start" textLength="139" lengthAdjust="spacingAndGlyphs" stroke="#000" stroke-width="0.25" >B: CB Treg preserves weight in a</text>
<text x="13.7" y="256.0" font-size="8.5" font-weight="bold" fill="#000" text-anchor="start" textLength="118.4" lengthAdjust="spacingAndGlyphs" stroke="#000" stroke-width="0.25" >xenogeneic myeloma model</text>
<text x="32.3" y="277.40" font-size="4.8" font-weight="bold" fill="#111" text-anchor="end" textLength="8.3" lengthAdjust="spacingAndGlyphs" stroke="#111" stroke-width="0.08" >110</text>
<text x="32.3" y="296.80" font-size="4.8" font-weight="bold" fill="#111" text-anchor="end" textLength="8.3" lengthAdjust="spacingAndGlyphs" stroke="#111" stroke-width="0.08" >100</text>
<text x="32.3" y="316.20" font-size="4.8" font-weight="bold" fill="#111" text-anchor="end" textLength="5.5" lengthAdjust="spacingAndGlyphs" stroke="#111" stroke-width="0.08" >90</text>
<text x="32.3" y="335.60" font-size="4.8" font-weight="bold" fill="#111" text-anchor="end" textLength="5.5" lengthAdjust="spacingAndGlyphs" stroke="#111" stroke-width="0.08" >80</text>
<text x="32.3" y="355.00" font-size="4.8" font-weight="bold" fill="#111" text-anchor="end" textLength="5.5" lengthAdjust="spacingAndGlyphs" stroke="#111" stroke-width="0.08" >70</text>
<polyline points="39.30,294.9 46.71,286.8 54.12,284.4 61.53,283.3 68.94,273.4 76.35,277 83.76,272.3 91.17,278.4 98.58,276.2 105.99,278 113.40,273.7 120.81,283.1 128.22,296.6 135.63,311.6" fill="none" stroke="#555" stroke-width="0.7"/>
<polyline points="39.30,294.9 46.71,287.6 54.12,284.6 61.53,284.2 68.94,279.4 76.35,281.6 83.76,276.4 91.17,279.2 98.58,280.8 105.99,315.6" fill="none" stroke="#222" stroke-width="0.85" stroke-dasharray="0.9,0.45"/>
<line x1="46.71" y1="284.20000000000005" x2="46.71" y2="289.4" stroke="#484848" stroke-width="0.75"/>
<line x1="54.12" y1="282.0" x2="54.12" y2="286.79999999999995" stroke="#484848" stroke-width="0.75"/>
<line x1="61.53" y1="280.70000000000005" x2="61.53" y2="285.9" stroke="#484848" stroke-width="0.75"/>
<line x1="68.94" y1="269.8" x2="68.94" y2="276.99999999999994" stroke="#484848" stroke-width="0.75"/>
<line x1="76.35" y1="274.0" x2="76.35" y2="280.0" stroke="#484848" stroke-width="0.75"/>
<line x1="83.76" y1="268.90000000000003" x2="83.76" y2="275.7" stroke="#484848" stroke-width="0.75"/>
<line x1="91.17" y1="275.8" x2="91.17" y2="280.99999999999994" stroke="#484848" stroke-width="0.75"/>
<line x1="98.58" y1="272.3" x2="98.58" y2="280.09999999999997" stroke="#484848" stroke-width="0.75"/>
<line x1="105.99" y1="274.1" x2="105.99" y2="281.9" stroke="#484848" stroke-width="0.75"/>
<line x1="113.40" y1="266.5" x2="113.40" y2="280.9" stroke="#484848" stroke-width="0.75"/>
<line x1="120.81" y1="279.20000000000005" x2="120.81" y2="287.0" stroke="#484848" stroke-width="0.75"/>
<line x1="128.22" y1="290.20000000000005" x2="128.22" y2="303.0" stroke="#484848" stroke-width="0.75"/>
<line x1="135.63" y1="305.20000000000005" x2="135.63" y2="318.0" stroke="#484848" stroke-width="0.75"/>
<line x1="46.71" y1="285.20000000000005" x2="46.71" y2="290.0" stroke="#3c3c3c" stroke-width="0.75"/>
<line x1="54.12" y1="282.20000000000005" x2="54.12" y2="287.0" stroke="#3c3c3c" stroke-width="0.75"/>
<line x1="61.53" y1="281.8" x2="61.53" y2="286.59999999999997" stroke="#3c3c3c" stroke-width="0.75"/>
<line x1="68.94" y1="276.5" x2="68.94" y2="282.29999999999995" stroke="#3c3c3c" stroke-width="0.75"/>
<line x1="76.35" y1="278.70000000000005" x2="76.35" y2="284.5" stroke="#3c3c3c" stroke-width="0.75"/>
<line x1="83.76" y1="273.5" x2="83.76" y2="279.29999999999995" stroke="#3c3c3c" stroke-width="0.75"/>
<line x1="91.17" y1="276.6" x2="91.17" y2="281.79999999999995" stroke="#3c3c3c" stroke-width="0.75"/>
<line x1="98.58" y1="277.40000000000003" x2="98.58" y2="284.2" stroke="#3c3c3c" stroke-width="0.75"/>
<line x1="105.99" y1="310.40000000000003" x2="105.99" y2="320.8" stroke="#3c3c3c" stroke-width="0.75"/>
<text x="39.90" y="360.6" font-size="4.9" font-weight="bold" fill="#111" text-anchor="middle" stroke="#111" stroke-width="0.08" >-4</text>
<text x="62.13" y="360.6" font-size="4.9" font-weight="bold" fill="#111" text-anchor="middle" stroke="#111" stroke-width="0.08" >10</text>
<text x="84.36" y="360.6" font-size="4.9" font-weight="bold" fill="#111" text-anchor="middle" stroke="#111" stroke-width="0.08" >21</text>
<text x="106.59" y="360.6" font-size="4.9" font-weight="bold" fill="#111" text-anchor="middle" stroke="#111" stroke-width="0.08" >31</text>
<text x="128.82" y="360.6" font-size="4.9" font-weight="bold" fill="#111" text-anchor="middle" stroke="#111" stroke-width="0.08" >42</text>
<text x="53" y="367.3" font-size="4.9" font-weight="bold" fill="#111" text-anchor="start" textLength="69.4" lengthAdjust="spacingAndGlyphs" stroke="#111" stroke-width="0.06" word-spacing="0.8">Days after Tumor Inoculation</text>
<line x1="36.2" y1="352.5" x2="136.8" y2="352.5" stroke="#e2e2e2" stroke-width="0.8"/>
<text transform="translate(16.8,304.5) rotate(-90)" font-size="4.8" font-weight="bold" text-anchor="middle" fill="#111" stroke="#111" stroke-width="0.12" word-spacing="0.7" textLength="82" lengthAdjust="spacingAndGlyphs">Actual weight/ baseline weight (%)</text>
<line x1="47.2" y1="329" x2="54.2" y2="329" stroke="#111" stroke-width="0.8" stroke-dasharray="0.9,0.7"/>
<line x1="47.2" y1="335.7" x2="54.2" y2="335.7" stroke="#a8a8a8" stroke-width="1"/>
<text x="54.6" y="330.7" font-size="4.7" font-weight="bold" fill="#111" text-anchor="start" textLength="36" lengthAdjust="spacingAndGlyphs" stroke="#111" stroke-width="0.05" word-spacing="0.9">myeloma alone</text>
<text x="54.6" y="337.3" font-size="4.7" font-weight="bold" fill="#111" text-anchor="start" textLength="39.2" lengthAdjust="spacingAndGlyphs" stroke="#111" stroke-width="0.05" word-spacing="0.8">myeloma w Treg</text>
<text x="189.5" y="205.0" font-size="8.5" font-weight="bold" fill="#000" text-anchor="start" textLength="89.8" lengthAdjust="spacingAndGlyphs" stroke="#000" stroke-width="0.25" >D: CB Treg recipients</text>
<text x="189.5" y="215.5" font-size="8.5" font-weight="bold" fill="#000" text-anchor="start" textLength="77.5" lengthAdjust="spacingAndGlyphs" stroke="#000" stroke-width="0.25" >have low IL-6 level</text>
<text x="187.2" y="323.20" font-size="6.5" font-weight="normal" fill="#404040" text-anchor="end" stroke="#404040" stroke-width="0.3" >0</text>
<text x="187.2" y="309.81" font-size="6.5" font-weight="normal" fill="#404040" text-anchor="end" stroke="#404040" stroke-width="0.3" >10</text>
<text x="187.2" y="296.42" font-size="6.5" font-weight="normal" fill="#404040" text-anchor="end" stroke="#404040" stroke-width="0.3" >20</text>
<text x="187.2" y="283.03" font-size="6.5" font-weight="normal" fill="#404040" text-anchor="end" stroke="#404040" stroke-width="0.3" >30</text>
<text x="187.2" y="269.64" font-size="6.5" font-weight="normal" fill="#404040" text-anchor="end" stroke="#404040" stroke-width="0.3" >40</text>
<text x="187.2" y="256.25" font-size="6.5" font-weight="normal" fill="#404040" text-anchor="end" stroke="#404040" stroke-width="0.3" >50</text>
<text x="187.2" y="242.86" font-size="6.5" font-weight="normal" fill="#404040" text-anchor="end" stroke="#404040" stroke-width="0.3" >60</text>
<text x="187.2" y="229.47" font-size="6.5" font-weight="normal" fill="#404040" text-anchor="end" stroke="#404040" stroke-width="0.3" >70</text>
<line x1="192.5" y1="321.1" x2="315" y2="321.1" stroke="#cfcfcf" stroke-width="0.8"/>
<line x1="193.20" y1="321.1" x2="193.20" y2="322.8" stroke="#cfcfcf" stroke-width="0.7"/>
<line x1="210.70" y1="321.1" x2="210.70" y2="322.8" stroke="#cfcfcf" stroke-width="0.7"/>
<line x1="228.20" y1="321.1" x2="228.20" y2="322.8" stroke="#cfcfcf" stroke-width="0.7"/>
<line x1="245.70" y1="321.1" x2="245.70" y2="322.8" stroke="#cfcfcf" stroke-width="0.7"/>
<line x1="263.20" y1="321.1" x2="263.20" y2="322.8" stroke="#cfcfcf" stroke-width="0.7"/>
<line x1="280.70" y1="321.1" x2="280.70" y2="322.8" stroke="#cfcfcf" stroke-width="0.7"/>
<line x1="298.20" y1="321.1" x2="298.20" y2="322.8" stroke="#cfcfcf" stroke-width="0.7"/>
<line x1="315.70" y1="321.1" x2="315.70" y2="322.8" stroke="#cfcfcf" stroke-width="0.7"/>
<rect x="196.30" y="316.88" width="5.5" height="4.02" fill="#161616"/>
<rect x="197.35" y="318.25" width="1.3" height="1.9" fill="#dadada"/><rect x="199.60" y="318.25" width="1.3" height="1.9" fill="#dadada"/>
<path d="M199.10,316.88 V315.81 M198.10,315.81 h2" stroke="#555" stroke-width="0.7" fill="none"/>
<rect x="213.80" y="308.85" width="5.5" height="12.05" fill="#161616"/>
<rect x="214.85" y="318.25" width="1.3" height="1.9" fill="#dadada"/><rect x="217.10" y="318.25" width="1.3" height="1.9" fill="#dadada"/>
<rect x="214.85" y="315.21" width="1.3" height="1.9" fill="#dadada"/><rect x="217.10" y="315.21" width="1.3" height="1.9" fill="#dadada"/>
<rect x="214.85" y="312.17" width="1.3" height="1.9" fill="#dadada"/><rect x="217.10" y="312.17" width="1.3" height="1.9" fill="#dadada"/>
<path d="M216.60,308.85 V307.24 M215.60,307.24 h2" stroke="#555" stroke-width="0.7" fill="none"/>
<rect x="231.30" y="310.46" width="5.5" height="10.44" fill="#161616"/>
<rect x="232.35" y="318.25" width="1.3" height="1.9" fill="#dadada"/><rect x="234.60" y="318.25" width="1.3" height="1.9" fill="#dadada"/>
<rect x="232.35" y="315.21" width="1.3" height="1.9" fill="#dadada"/><rect x="234.60" y="315.21" width="1.3" height="1.9" fill="#dadada"/>
<rect x="232.35" y="312.17" width="1.3" height="1.9" fill="#dadada"/><rect x="234.60" y="312.17" width="1.3" height="1.9" fill="#dadada"/>
<path d="M234.10,310.46 V305.77 M233.10,305.77 h2" stroke="#555" stroke-width="0.7" fill="none"/>
<rect x="248.80" y="309.92" width="5.5" height="10.98" fill="#161616"/>
<rect x="249.85" y="318.25" width="1.3" height="1.9" fill="#dadada"/><rect x="252.10" y="318.25" width="1.3" height="1.9" fill="#dadada"/>
<rect x="249.85" y="315.21" width="1.3" height="1.9" fill="#dadada"/><rect x="252.10" y="315.21" width="1.3" height="1.9" fill="#dadada"/>
<rect x="249.85" y="312.17" width="1.3" height="1.9" fill="#dadada"/><rect x="252.10" y="312.17" width="1.3" height="1.9" fill="#dadada"/>
<path d="M251.60,309.92 V307.91 M250.60,307.91 h2" stroke="#555" stroke-width="0.7" fill="none"/>
<rect x="266.30" y="290.50" width="5.5" height="30.40" fill="#161616"/>
<rect x="267.35" y="318.25" width="1.3" height="1.9" fill="#dadada"/><rect x="269.60" y="318.25" width="1.3" height="1.9" fill="#dadada"/>
<rect x="267.35" y="315.21" width="1.3" height="1.9" fill="#dadada"/><rect x="269.60" y="315.21" width="1.3" height="1.9" fill="#dadada"/>
<rect x="267.35" y="312.17" width="1.3" height="1.9" fill="#dadada"/><rect x="269.60" y="312.17" width="1.3" height="1.9" fill="#dadada"/>
<rect x="267.35" y="309.13" width="1.3" height="1.9" fill="#dadada"/><rect x="269.60" y="309.13" width="1.3" height="1.9" fill="#dadada"/>
<rect x="267.35" y="306.09" width="1.3" height="1.9" fill="#dadada"/><rect x="269.60" y="306.09" width="1.3" height="1.9" fill="#dadada"/>
<rect x="267.35" y="303.05" width="1.3" height="1.9" fill="#dadada"/><rect x="269.60" y="303.05" width="1.3" height="1.9" fill="#dadada"/>
<rect x="267.35" y="300.01" width="1.3" height="1.9" fill="#dadada"/><rect x="269.60" y="300.01" width="1.3" height="1.9" fill="#dadada"/>
<rect x="267.35" y="296.97" width="1.3" height="1.9" fill="#dadada"/><rect x="269.60" y="296.97" width="1.3" height="1.9" fill="#dadada"/>
<rect x="267.35" y="293.93" width="1.3" height="1.9" fill="#dadada"/><rect x="269.60" y="293.93" width="1.3" height="1.9" fill="#dadada"/>
<path d="M269.10,290.50 V273.10 M268.10,273.10 h2" stroke="#555" stroke-width="0.7" fill="none"/>
<rect x="283.80" y="236.54" width="5.5" height="84.36" fill="#161616"/>
<rect x="284.85" y="318.25" width="1.3" height="1.9" fill="#dadada"/><rect x="287.10" y="318.25" width="1.3" height="1.9" fill="#dadada"/>
<rect x="284.85" y="315.21" width="1.3" height="1.9" fill="#dadada"/><rect x="287.10" y="315.21" width="1.3" height="1.9" fill="#dadada"/>
<rect x="284.85" y="312.17" width="1.3" height="1.9" fill="#dadada"/><rect x="287.10" y="312.17" width="1.3" height="1.9" fill="#dadada"/>
<rect x="284.85" y="309.13" width="1.3" height="1.9" fill="#dadada"/><rect x="287.10" y="309.13" width="1.3" height="1.9" fill="#dadada"/>
<rect x="284.85" y="306.09" width="1.3" height="1.9" fill="#dadada"/><rect x="287.10" y="306.09" width="1.3" height="1.9" fill="#dadada"/>
<rect x="284.85" y="303.05" width="1.3" height="1.9" fill="#dadada"/><rect x="287.10" y="303.05" width="1.3" height="1.9" fill="#dadada"/>
<rect x="284.85" y="300.01" width="1.3" height="1.9" fill="#dadada"/><rect x="287.10" y="300.01" width="1.3" height="1.9" fill="#dadada"/>
<rect x="284.85" y="296.97" width="1.3" height="1.9" fill="#dadada"/><rect x="287.10" y="296.97" width="1.3" height="1.9" fill="#dadada"/>
<rect x="284.85" y="293.93" width="1.3" height="1.9" fill="#dadada"/><rect x="287.10" y="293.93" width="1.3" height="1.9" fill="#dadada"/>
<rect x="284.85" y="290.89" width="1.3" height="1.9" fill="#dadada"/><rect x="287.10" y="290.89" width="1.3" height="1.9" fill="#dadada"/>
<rect x="284.85" y="287.85" width="1.3" height="1.9" fill="#dadada"/><rect x="287.10" y="287.85" width="1.3" height="1.9" fill="#dadada"/>
<rect x="284.85" y="284.81" width="1.3" height="1.9" fill="#dadada"/><rect x="287.10" y="284.81" width="1.3" height="1.9" fill="#dadada"/>
<rect x="284.85" y="281.77" width="1.3" height="1.9" fill="#dadada"/><rect x="287.10" y="281.77" width="1.3" height="1.9" fill="#dadada"/>
<rect x="284.85" y="278.73" width="1.3" height="1.9" fill="#dadada"/><rect x="287.10" y="278.73" width="1.3" height="1.9" fill="#dadada"/>
<rect x="284.85" y="275.69" width="1.3" height="1.9" fill="#dadada"/><rect x="287.10" y="275.69" width="1.3" height="1.9" fill="#dadada"/>
<rect x="284.85" y="272.65" width="1.3" height="1.9" fill="#dadada"/><rect x="287.10" y="272.65" width="1.3" height="1.9" fill="#dadada"/>
<rect x="284.85" y="269.61" width="1.3" height="1.9" fill="#dadada"/><rect x="287.10" y="269.61" width="1.3" height="1.9" fill="#dadada"/>
<rect x="284.85" y="266.57" width="1.3" height="1.9" fill="#dadada"/><rect x="287.10" y="266.57" width="1.3" height="1.9" fill="#dadada"/>
<rect x="284.85" y="263.53" width="1.3" height="1.9" fill="#dadada"/><rect x="287.10" y="263.53" width="1.3" height="1.9" fill="#dadada"/>
<rect x="284.85" y="260.49" width="1.3" height="1.9" fill="#dadada"/><rect x="287.10" y="260.49" width="1.3" height="1.9" fill="#dadada"/>
<rect x="284.85" y="257.45" width="1.3" height="1.9" fill="#dadada"/><rect x="287.10" y="257.45" width="1.3" height="1.9" fill="#dadada"/>
<rect x="284.85" y="254.41" width="1.3" height="1.9" fill="#dadada"/><rect x="287.10" y="254.41" width="1.3" height="1.9" fill="#dadada"/>
<rect x="284.85" y="251.37" width="1.3" height="1.9" fill="#dadada"/><rect x="287.10" y="251.37" width="1.3" height="1.9" fill="#dadada"/>
<rect x="284.85" y="248.33" width="1.3" height="1.9" fill="#dadada"/><rect x="287.10" y="248.33" width="1.3" height="1.9" fill="#dadada"/>
<rect x="284.85" y="245.29" width="1.3" height="1.9" fill="#dadada"/><rect x="287.10" y="245.29" width="1.3" height="1.9" fill="#dadada"/>
<rect x="284.85" y="242.25" width="1.3" height="1.9" fill="#dadada"/><rect x="287.10" y="242.25" width="1.3" height="1.9" fill="#dadada"/>
<rect x="284.85" y="239.21" width="1.3" height="1.9" fill="#dadada"/><rect x="287.10" y="239.21" width="1.3" height="1.9" fill="#dadada"/>
<rect x="201.80" y="316.21" width="4.8" height="4.69" fill="#808080"/>
<path d="M204.20,316.21 V315.14 M203.20,315.14 h2" stroke="#666" stroke-width="0.7" fill="none"/>
<rect x="219.30" y="312.46" width="4.8" height="8.44" fill="#808080"/>
<path d="M221.70,312.46 V309.12 M220.70,309.12 h2" stroke="#666" stroke-width="0.7" fill="none"/>
<rect x="236.80" y="312.46" width="4.8" height="8.44" fill="#808080"/>
<path d="M239.20,312.46 V311.66 M238.20,311.66 h2" stroke="#666" stroke-width="0.7" fill="none"/>
<rect x="254.30" y="313.27" width="4.8" height="7.63" fill="#808080"/>
<path d="M256.70,313.27 V311.13 M255.70,311.13 h2" stroke="#666" stroke-width="0.7" fill="none"/>
<rect x="271.80" y="314.20" width="4.8" height="6.69" fill="#808080"/>
<path d="M274.20,314.20 V313.00 M273.20,313.00 h2" stroke="#666" stroke-width="0.7" fill="none"/>
<rect x="289.30" y="315.54" width="4.8" height="5.36" fill="#808080"/>
<path d="M291.70,315.54 V313.54 M290.70,313.54 h2" stroke="#666" stroke-width="0.7" fill="none"/>
<rect x="306.80" y="298.14" width="4.8" height="22.76" fill="#808080"/>
<path d="M309.20,298.14 V284.75 M308.20,284.75 h2" stroke="#666" stroke-width="0.7" fill="none"/>
<text x="201.80" y="333.2" font-size="6.5" font-weight="bold" fill="#505050" text-anchor="middle" stroke="#505050" stroke-width="0.03" >-1</text>
<text x="219.30" y="333.2" font-size="6.5" font-weight="bold" fill="#505050" text-anchor="middle" stroke="#505050" stroke-width="0.03" >7</text>
<text x="236.80" y="333.2" font-size="6.5" font-weight="bold" fill="#505050" text-anchor="middle" stroke="#505050" stroke-width="0.03" >14</text>
<text x="254.30" y="333.2" font-size="6.5" font-weight="bold" fill="#505050" text-anchor="middle" stroke="#505050" stroke-width="0.03" >21</text>
<text x="271.80" y="333.2" font-size="6.5" font-weight="bold" fill="#505050" text-anchor="middle" stroke="#505050" stroke-width="0.03" >28</text>
<text x="289.30" y="333.2" font-size="6.5" font-weight="bold" fill="#505050" text-anchor="middle" stroke="#505050" stroke-width="0.03" >35</text>
<text x="306.80" y="333.2" font-size="6.5" font-weight="bold" fill="#505050" text-anchor="middle" stroke="#505050" stroke-width="0.03" >42</text>
<text x="205" y="346.2" font-size="6.8" font-weight="bold" fill="#4a4a4a" text-anchor="start" textLength="99.5" lengthAdjust="spacingAndGlyphs" stroke="#4a4a4a" stroke-width="0.2" >Days after tumor inoculation</text>
<text transform="translate(168.3,276) rotate(-90)" font-size="6.5" font-weight="normal" text-anchor="middle" fill="#4c4c4c" stroke="#4c4c4c" stroke-width="0.25" textLength="39.5" lengthAdjust="spacingAndGlyphs">IL-6 (pg/mL)</text>
<rect x="200.2" y="243.4" width="4.2" height="4.2" fill="#161616"/><rect x="201.1" y="244.3" width="1" height="1" fill="#e6e6e6"/><rect x="202.6" y="244.3" width="1" height="1" fill="#e6e6e6"/><rect x="201.1" y="245.8" width="1" height="1" fill="#e6e6e6"/><rect x="202.6" y="245.8" width="1" height="1" fill="#e6e6e6"/>
<rect x="200.8" y="251.5" width="3.2" height="3.2" fill="#858585"/>
<text x="205.7" y="248.2" font-size="6.9" font-weight="bold" fill="#555" text-anchor="start" textLength="52.4" lengthAdjust="spacingAndGlyphs" stroke="#555" stroke-width="0.2" >myeloma alone</text>
<text x="205.7" y="256.3" font-size="6.9" font-weight="bold" fill="#555" text-anchor="start" textLength="57" lengthAdjust="spacingAndGlyphs" stroke="#555" stroke-width="0.2" >myeloma w Treg</text>
<text x="357" y="205.0" font-size="8.5" font-weight="bold" fill="#000" text-anchor="start" textLength="111" lengthAdjust="spacingAndGlyphs" stroke="#000" stroke-width="0.25" >E: CB Treg recipients have</text>
<text x="357" y="215.5" font-size="8.5" font-weight="bold" fill="#000" text-anchor="start" textLength="94.3" lengthAdjust="spacingAndGlyphs" stroke="#000" stroke-width="0.25" >lower myeloma burden</text>
<path d="M352.5,238.8 V339 H413.8" stroke="#b4b4b4" stroke-width="0.9" fill="none"/>
<line x1="350.4" y1="338.8" x2="352.5" y2="338.8" stroke="#9a9a9a" stroke-width="0.7"/>
<text x="347.2" y="341.20" font-size="6.7" font-weight="normal" fill="#222" text-anchor="end" stroke="#222" stroke-width="0.2" >0</text>
<line x1="350.4" y1="318.8" x2="352.5" y2="318.8" stroke="#9a9a9a" stroke-width="0.7"/>
<text x="347.2" y="321.20" font-size="6.7" font-weight="normal" fill="#222" text-anchor="end" stroke="#222" stroke-width="0.2" >20</text>
<line x1="350.4" y1="298.8" x2="352.5" y2="298.8" stroke="#9a9a9a" stroke-width="0.7"/>
<text x="347.2" y="301.20" font-size="6.7" font-weight="normal" fill="#222" text-anchor="end" stroke="#222" stroke-width="0.2" >40</text>
<line x1="350.4" y1="278.8" x2="352.5" y2="278.8" stroke="#9a9a9a" stroke-width="0.7"/>
<text x="347.2" y="281.20" font-size="6.7" font-weight="normal" fill="#222" text-anchor="end" stroke="#222" stroke-width="0.2" >60</text>
<line x1="350.4" y1="258.8" x2="352.5" y2="258.8" stroke="#9a9a9a" stroke-width="0.7"/>
<text x="347.2" y="261.20" font-size="6.7" font-weight="normal" fill="#222" text-anchor="end" stroke="#222" stroke-width="0.2" >80</text>
<line x1="350.4" y1="238.8" x2="352.5" y2="238.8" stroke="#9a9a9a" stroke-width="0.7"/>
<text x="347.2" y="241.20" font-size="6.7" font-weight="normal" fill="#222" text-anchor="end" stroke="#222" stroke-width="0.2" >100</text>
<rect x="365.5" y="249.1" width="17.9" height="89.7" fill="url(#chkBM)"/>
<path d="M374.5,249.1 V246.3 M373.4,246.3 h2.2" stroke="#333" stroke-width="0.7" fill="none"/>
<rect x="383.5" y="337.8" width="16.5" height="1" fill="#888"/>
<text x="357" y="235.6" font-size="6.3" font-weight="bold" fill="#111" text-anchor="start" textLength="45.5" lengthAdjust="spacingAndGlyphs" stroke="#111" stroke-width="0.2" >Bone Marrow</text>
<text transform="translate(334.8,288.5) rotate(-90)" font-size="6.5" font-weight="bold" text-anchor="middle" fill="#111" textLength="72" lengthAdjust="spacingAndGlyphs">CD38+/total cells (%)</text>
<rect x="391.3" y="270" width="3.6" height="3.6" fill="#3a3a3a"/><path d="M391.3,271.8 H394.9 M393.1,270 V273.6" stroke="#ddd" stroke-width="0.6"/>
<rect x="391.3" y="297.8" width="3.6" height="3.6" fill="#858585"/>
<text x="397" y="274.1" font-size="6.7" font-weight="normal" fill="#222" text-anchor="start" textLength="29.3" lengthAdjust="spacingAndGlyphs" stroke="#222" stroke-width="0.12" >myeloma</text>
<text x="397" y="282.8" font-size="6.7" font-weight="normal" fill="#222" text-anchor="start" stroke="#222" stroke-width="0.12" >alone</text>
<text x="397" y="301.9" font-size="6.7" font-weight="normal" fill="#222" text-anchor="start" textLength="29.3" lengthAdjust="spacingAndGlyphs" stroke="#222" stroke-width="0.12" >myeloma</text>
<text x="397" y="310" font-size="6.7" font-weight="normal" fill="#222" text-anchor="start" stroke="#222" stroke-width="0.12" >w Treg</text>
<path d="M459.6,238.8 V339.5 H520" stroke="#b4b4b4" stroke-width="1.0" fill="none"/>
<line x1="457.5" y1="339.20" x2="459.6" y2="339.20" stroke="#9a9a9a" stroke-width="0.7"/>
<text x="454" y="341.60" font-size="6.7" font-weight="normal" fill="#222" text-anchor="end" stroke="#222" stroke-width="0.2" >0</text>
<line x1="457.5" y1="319.12" x2="459.6" y2="319.12" stroke="#9a9a9a" stroke-width="0.7"/>
<text x="454" y="321.52" font-size="6.7" font-weight="normal" fill="#222" text-anchor="end" stroke="#222" stroke-width="0.2" >20</text>
<line x1="457.5" y1="299.04" x2="459.6" y2="299.04" stroke="#9a9a9a" stroke-width="0.7"/>
<text x="454" y="301.44" font-size="6.7" font-weight="normal" fill="#222" text-anchor="end" stroke="#222" stroke-width="0.2" >40</text>
<line x1="457.5" y1="278.96" x2="459.6" y2="278.96" stroke="#9a9a9a" stroke-width="0.7"/>
<text x="454" y="281.36" font-size="6.7" font-weight="normal" fill="#222" text-anchor="end" stroke="#222" stroke-width="0.2" >60</text>
<line x1="457.5" y1="258.88" x2="459.6" y2="258.88" stroke="#9a9a9a" stroke-width="0.7"/>
<text x="454" y="261.28" font-size="6.7" font-weight="normal" fill="#222" text-anchor="end" stroke="#222" stroke-width="0.2" >80</text>
<line x1="457.5" y1="238.80" x2="459.6" y2="238.80" stroke="#9a9a9a" stroke-width="0.7"/>
<text x="454" y="241.20" font-size="6.7" font-weight="normal" fill="#222" text-anchor="end" stroke="#222" stroke-width="0.2" >100</text>
<rect x="472.4" y="326.7" width="18" height="12.5" fill="url(#chkSP)"/>
<path d="M481.2,326.7 V324.2 M480.2,324.2 h2" stroke="#333" stroke-width="0.7" fill="none"/>
<rect x="489.6" y="338" width="16.7" height="1.2" fill="#777"/>
<line x1="498" y1="338" x2="498" y2="337.2" stroke="#444" stroke-width="0.6"/>
<text x="463.8" y="235.6" font-size="6.3" font-weight="bold" fill="#111" text-anchor="start" textLength="23.2" lengthAdjust="spacingAndGlyphs" stroke="#111" stroke-width="0.2" >Spleen</text>
<text transform="translate(441.5,288.5) rotate(-90)" font-size="6.5" font-weight="bold" text-anchor="middle" fill="#111" textLength="72" lengthAdjust="spacingAndGlyphs">CD38+/total cells (%)</text>
<rect x="471.2" y="273.8" width="3.2" height="3.2" fill="#3a3a3a"/><path d="M471.2,275.4 H474.4 M472.8,273.8 V277" stroke="#ddd" stroke-width="0.6"/>
<rect x="471.2" y="294.6" width="3.2" height="3.2" fill="#858585"/>
<text x="476.3" y="277.8" font-size="6.7" font-weight="normal" fill="#222" text-anchor="start" textLength="29.3" lengthAdjust="spacingAndGlyphs" stroke="#222" stroke-width="0.12" >myeloma</text>
<text x="476.3" y="286.8" font-size="6.7" font-weight="normal" fill="#222" text-anchor="start" stroke="#222" stroke-width="0.12" >alone</text>
<text x="476.3" y="298.8" font-size="6.7" font-weight="normal" fill="#222" text-anchor="start" textLength="36.8" lengthAdjust="spacingAndGlyphs" stroke="#222" stroke-width="0.12" >myeloma w</text>
<text x="476.3" y="306.8" font-size="6.7" font-weight="normal" fill="#222" text-anchor="start" stroke="#222" stroke-width="0.12" >Treg</text>
</g>
</svg></body></html>
